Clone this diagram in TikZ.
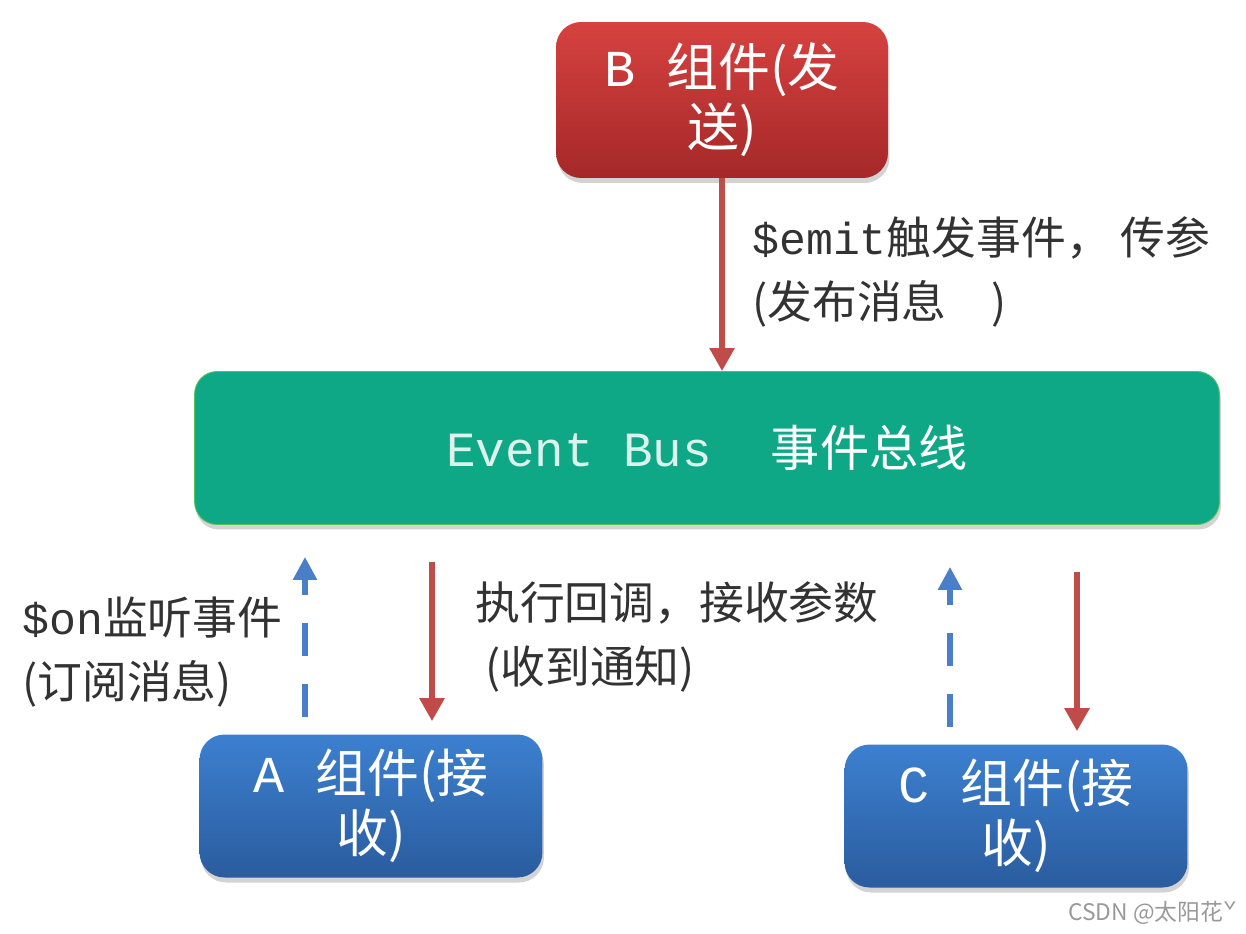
\documentclass[tikz,border=0pt]{standalone}
\usepackage{fontspec}
\setmainfont{Noto Sans CJK SC}
\setmonofont{Liberation Mono}
\usetikzlibrary{arrows.meta,shadows}
\definecolor{redtop}{RGB}{214,66,64}
\definecolor{redbot}{RGB}{165,40,40}
\definecolor{bluetop}{RGB}{60,128,208}
\definecolor{bluebot}{RGB}{42,92,158}
\definecolor{busgreen}{RGB}{14,168,134}
\definecolor{redline}{RGB}{192,76,74}
\definecolor{blueline}{RGB}{74,126,200}
\definecolor{lbl}{RGB}{50,50,50}
\begin{document}
\begin{tikzpicture}[x=0.02cm,y=-0.02cm,
    comp/.style={rounded corners=0.5cm, text=white, align=center, inner sep=0pt,
        font=\fontsize{29.5}{34}\selectfont,
        drop shadow={shadow xshift=0.03cm, shadow yshift=-0.1cm, opacity=0.35}},
    send/.style={draw=redline, line width=0.11cm, -{Triangle[length=0.46cm,width=0.48cm]}},
    listen/.style={draw=blueline, line width=0.11cm, dash pattern=on 0.66cm off 0.56cm,
        -{Triangle[length=0.46cm,width=0.46cm]}},
    note/.style={anchor=west, align=left, text=lbl, inner sep=0pt,
        font=\fontsize{25.5}{36}\selectfont}]
    \useasboundingbox (0,0) rectangle (1246,933);
    % boxes
    \node[comp, top color=redtop, bottom color=redbot, minimum width=6.64cm, minimum height=3.12cm]
        (B) at (722,100) {{\ttfamily B\ }组件(发\\送)};
    \node[comp, fill=busgreen, draw=busgreen!70!yellow, line width=0.5pt, rounded corners=0.45cm,
        minimum width=20.5cm, minimum height=3.06cm, font=\fontsize{28}{34}\selectfont]
        (bus) at (707,448) {{\ttfamily\color{white!85!busgreen}Event Bus\ \ }事件总线};
    \node[comp, top color=bluetop, bottom color=bluebot, minimum width=6.86cm, minimum height=2.86cm]
        (A) at (371,806) {{\ttfamily A\ }组件(接\\收)};
    \node[comp, top color=bluetop, bottom color=bluebot, minimum width=6.86cm, minimum height=2.86cm]
        (C) at (1016,816) {{\ttfamily C\ }组件(接\\收)};
    % arrows
    \coordinate (aup) at (305,0);
    \coordinate (adown) at (432,0);
    \coordinate (cup) at (950,0);
    \coordinate (cdown) at (1077,0);
    \draw[send] (B) -- (B |- bus.north);
    \draw[listen, shorten <=0.34cm, shorten >=0.64cm] (A.north -| aup) -- (bus.south -| aup);
    \draw[send, shorten <=0.74cm, shorten >=0.26cm] (bus.south -| adown) -- (A.north -| adown);
    \draw[listen, shorten <=0.34cm, shorten >=0.84cm] (C.north -| cup) -- (bus.south -| cup);
    \draw[send, shorten <=0.94cm, shorten >=0.26cm] (bus.south -| cdown) -- (C.north -| cdown);
    % labels
    \node[note] (emitlbl) at (752,272) {{\ttfamily\$emit}触发事件， 传参\\(发布消息　)};
    \node[note] (onlbl) at (22,652) {{\ttfamily\$on}监听事件\\(订阅消息)};
    \node[note] (cblbl) at (475,637) {执行回调，接收参数\\\ (收到通知)};
    \node[anchor=west, inner sep=0pt, text=black!40, font=\fontsize{13}{15}\selectfont]
        (mark) at (1068,913) {CSDN @太阳花ˇ};
\end{tikzpicture}
\end{document}
